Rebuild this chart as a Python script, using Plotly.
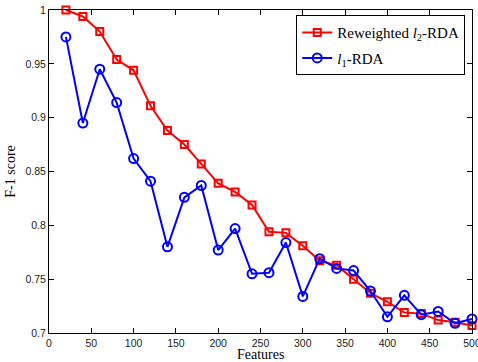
import plotly.graph_objects as go

features = [20, 40, 60, 80, 100, 120, 140, 160, 180, 200, 220, 240, 260,
            280, 300, 320, 340, 360, 380, 400, 420, 440, 460, 480, 500]
reweighted_l2 = [1.000, 0.994, 0.980, 0.954, 0.944, 0.911, 0.888, 0.875, 0.857,
                 0.839, 0.831, 0.819, 0.794, 0.793, 0.781, 0.767, 0.763, 0.750,
                 0.737, 0.729, 0.719, 0.718, 0.712, 0.710, 0.707]
l1_rda = [0.975, 0.895, 0.945, 0.914, 0.862, 0.841, 0.780, 0.826, 0.837,
          0.777, 0.797, 0.755, 0.756, 0.784, 0.734, 0.769, 0.760, 0.758,
          0.739, 0.715, 0.735, 0.717, 0.720, 0.709, 0.713]
x_ticks = [0, 50, 100, 150, 200, 250, 300, 350, 400, 450, 500]
y_ticks = [0.7, 0.75, 0.8, 0.85, 0.9, 0.95, 1]
y_tick_text = ["0.7", "0.75", "0.8", "0.85", "0.9", "0.95", "1"]

SERIF = "Liberation Serif"

fig = go.Figure()
fig.add_trace(go.Scatter(
    x=features, y=reweighted_l2, mode="lines+markers",
    name="Reweighted <i>l</i><sub>2</sub>-RDA", legendgroup="a",
    line=dict(color="#ff0000", width=2),
    marker=dict(symbol="square-open", size=7, color="#ff0000", line=dict(width=2)),
    cliponaxis=False,
))
fig.add_trace(go.Scatter(
    x=features, y=l1_rda, mode="lines+markers",
    name="<i>l</i><sub>1</sub>-RDA", legendgroup="b",
    line=dict(color="#0000ff", width=2),
    marker=dict(symbol="circle-open", size=9, color="#0000ff", line=dict(width=2)),
    cliponaxis=False,
))

axis_common = dict(
    showgrid=False, zeroline=False, showline=True, linecolor="black", linewidth=1,
    mirror="ticks", ticks="inside", ticklen=5, tickcolor="black",
    automargin=False, ticklabeloverflow="allow",
    tickfont=dict(family="Liberation Sans, Arial", size=10.5, color="#222222"),
)
fig.update_xaxes(range=[0, 500], tickvals=x_ticks, **axis_common)
fig.update_yaxes(range=[0.7, 1], tickvals=y_ticks, ticktext=y_tick_text,
                 title=dict(text="F-1 score", standoff=6,
                            font=dict(family=SERIF, size=14, color="black")),
                 **axis_common)

fig.add_annotation(text="Features", xref="paper", yref="paper", x=0.5, y=0,
                   xanchor="center", yanchor="bottom", yshift=-31, showarrow=False,
                   font=dict(family=SERIF, size=14, color="black"))

fig.update_layout(
    width=478, height=362,
    margin=dict(l=49, r=6, t=10, b=29),
    paper_bgcolor="white", plot_bgcolor="white",
    showlegend=True,
    legend=dict(x=0.984, y=0.984, xanchor="right", yanchor="top",
                bgcolor="white", bordercolor="black", borderwidth=1,
                font=dict(family=SERIF, size=15, color="black"),
                tracegroupgap=3, itemwidth=30, traceorder="grouped"),
)
fig.write_html("out.html", config={"displayModeBar": False},
               post_script="document.body.style.margin='0';document.body.style.overflow='hidden';")
